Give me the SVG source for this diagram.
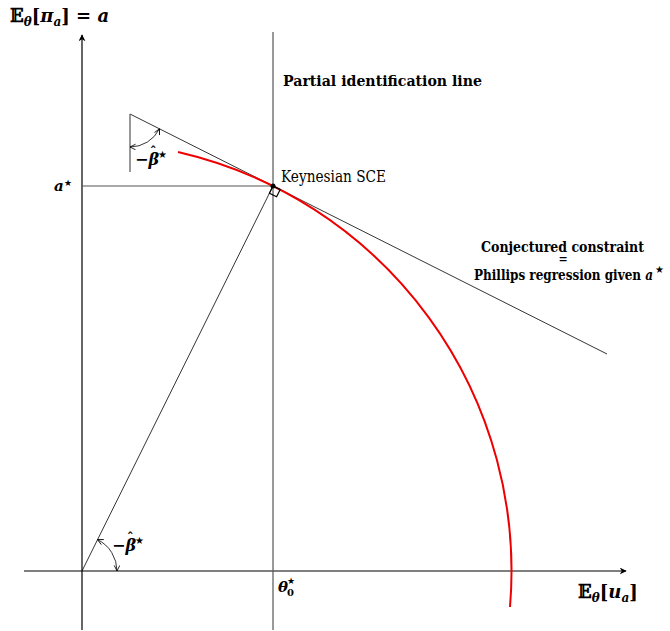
<svg xmlns="http://www.w3.org/2000/svg" width="670" height="631" viewBox="0 0 670 631">
<defs>
<marker id="ah" viewBox="0 0 10 10" refX="9" refY="5" markerWidth="7" markerHeight="7" orient="auto-start-reverse" markerUnits="userSpaceOnUse"><path d="M0,0 L10,5 L0,10 L3,5 Z" fill="#000"/></marker>
<marker id="sa" viewBox="0 0 10 10" refX="9" refY="5" markerWidth="7" markerHeight="7" orient="auto-start-reverse" markerUnits="userSpaceOnUse"><path d="M1,1 L9,5 L1,9" fill="none" stroke="#000" stroke-width="1.2"/></marker>
</defs>
<style>
text{font-family:"DejaVu Serif","Liberation Serif",serif;fill:#000}
.b{font-weight:bold}
.st{font-family:"DejaVu Sans",sans-serif;font-weight:bold}
.ax{stroke:#000;stroke-width:1.2;fill:none}
.g{stroke:#555;stroke-width:1.2;fill:none}
.t{stroke:#000;stroke-width:0.8;fill:none}
</style>
<rect width="670" height="631" fill="#fff"/>
<g id="connectors">
<line class="ax" x1="82" y1="630" x2="82" y2="35" marker-end="url(#ah)"/>
<line class="ax" x1="24" y1="571" x2="626" y2="571" marker-end="url(#ah)"/>
<line class="g" x1="273" y1="32" x2="273" y2="630"/>
<line class="g" x1="82" y1="186" x2="273" y2="186"/>
<line class="t" x1="82" y1="571" x2="273" y2="186"/>
<line class="t" x1="130" y1="114" x2="607" y2="354"/>
<line class="g" x1="130" y1="114" x2="130" y2="172"/>
<path d="M178,152 A430,430 0 0 1 510,607" stroke="#e00" stroke-width="2" fill="none"/>
<path class="t" d="M159.5,128.8 A33,33 0 0 1 130,147" marker-start="url(#sa)" marker-end="url(#sa)"/>
<path class="t" d="M97.5,539.6 A35,35 0 0 1 117,571" marker-start="url(#sa)" marker-end="url(#sa)"/>
<path d="M273,186 L269.4,193.2 L276.6,196.8 L280.2,189.6 Z" stroke="#000" stroke-width="1.2" fill="none"/>
<circle cx="273" cy="186" r="2.5" fill="#000"/>
</g>
<g id="ylabel"><text x="10" y="22" font-size="18" class="b">𝔼<tspan font-size="12" dy="4" font-style="italic">θ</tspan><tspan dy="-4">[</tspan><tspan font-style="italic">π</tspan><tspan font-size="12" dy="4" font-style="italic">a</tspan><tspan dy="-4">] = </tspan><tspan font-style="italic">a</tspan></text></g>
<g id="xlabel"><text x="578" y="598" font-size="18" class="b">𝔼<tspan font-size="12" dy="4" font-style="italic">θ</tspan><tspan dy="-4">[</tspan><tspan font-style="italic">u</tspan><tspan font-size="12" dy="4" font-style="italic">a</tspan><tspan dy="-4">]</tspan></text></g>
<g id="partial"><text x="283" y="86" font-size="15" class="b" textLength="199" lengthAdjust="spacingAndGlyphs">Partial identification line</text></g>
<g id="sce"><text x="281" y="182" font-size="16" textLength="105" lengthAdjust="spacingAndGlyphs">Keynesian SCE</text></g>
<g id="conj"><text x="481" y="252" font-size="14" class="b" textLength="163" lengthAdjust="spacingAndGlyphs">Conjectured constraint</text><text x="563" y="263" font-size="11" class="b" text-anchor="middle">=</text><text x="474" y="280" font-size="14" class="b" textLength="179" lengthAdjust="spacingAndGlyphs">Phillips regression given <tspan font-style="italic">a</tspan></text><text x="655" y="273" font-size="10" class="st">★</text></g>
<g id="astar"><text x="54" y="191" font-size="15" class="b" font-style="italic">a</text><text x="64" y="186" font-size="9" class="st">★</text></g>
<g id="theta"><text x="278" y="592" font-size="15" class="b" font-style="italic">θ</text><text x="287" y="584" font-size="9" class="st">★</text><text x="287" y="596" font-size="10" class="b">0</text></g>
<g id="beta1"><text x="135" y="165" font-size="16" class="b">−<tspan font-style="italic">β</tspan></text><text x="150" y="156" font-size="13" class="b">ˆ</text><text x="158" y="158" font-size="10" class="st">★</text></g>
<g id="beta2"><text x="112" y="551" font-size="16" class="b">−<tspan font-style="italic">β</tspan></text><text x="127" y="542" font-size="13" class="b">ˆ</text><text x="135" y="544" font-size="10" class="st">★</text></g>
</svg>
